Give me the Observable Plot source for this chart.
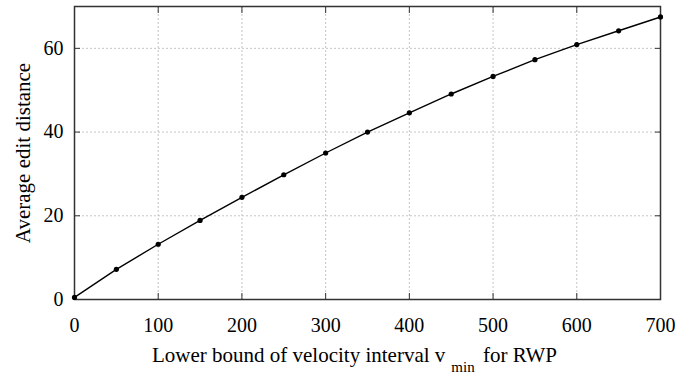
<!DOCTYPE html>
<html><head><meta charset="utf-8">
<script src="https://cdn.jsdelivr.net/npm/d3@7"></script>
<script src="https://cdn.jsdelivr.net/npm/@observablehq/plot@0.6"></script>
<style>
body{margin:0;background:#fff}
svg{display:block}
svg text{font-family:"Liberation Serif","Times New Roman",serif !important}
</style>
</head><body><div id="chart"></div>
<script>
const vmin = [0, 50, 100, 150, 200, 250, 300, 350, 400, 450, 500, 550, 600, 650, 700];
const editDistance = [0.5, 7.2, 13.2, 18.9, 24.4, 29.8, 35.0, 40.0, 44.6, 49.1, 53.3, 57.3, 60.9, 64.2, 67.5];
const xTicks = [0, 100, 200, 300, 400, 500, 600, 700];
const yTicks = [0, 20, 40, 60];
const xTitleMain = "Lower bound of velocity interval v";
const xTitleSub = "min";
const xTitleEnd = " for RWP";
const yTitle = "Average edit distance";

const data = vmin.map((v, i) => ({v, d: editDistance[i]}));
const font = "Liberation Serif";

const chart = Plot.plot({
  width: 700, height: 377,
  marginLeft: 74, marginRight: 40, marginTop: 6, marginBottom: 78,
  style: {fontFamily: font, fontSize: "20px", color: "#000", background: "#fff"},
  x: {domain: [0, 700]},
  y: {domain: [0, 70]},
  marks: [
    Plot.gridX(xTicks, {stroke: "#b5b5b5", strokeOpacity: 1, strokeWidth: 0.8, strokeDasharray: "2,2"}),
    Plot.gridY(yTicks, {stroke: "#b5b5b5", strokeOpacity: 1, strokeWidth: 0.8, strokeDasharray: "2,2"}),
    Plot.axisX(xTicks, {anchor: "bottom", tickSize: -6, tickPadding: 24, label: null, stroke: "#333"}),
    Plot.axisX(xTicks, {anchor: "top", tickSize: -6, fill: "none", label: null, stroke: "#333"}),
    Plot.axisY(yTicks, {anchor: "left", tickSize: -6, tickPadding: 17, label: null, stroke: "#333"}),
    Plot.axisY(yTicks, {anchor: "right", tickSize: -6, fill: "none", label: null, stroke: "#333"}),
    Plot.frame({stroke: "#333", strokeWidth: 1.5}),
    Plot.line(data, {x: "v", y: "d", stroke: "#000", strokeWidth: 1.4}),
    Plot.dot(data, {x: "v", y: "d", r: 2.6, fill: "#000", stroke: "none"})
  ]
});
document.getElementById("chart").appendChild(chart);

const svg = d3.select(chart);
const xt = svg.append("text")
  .attr("x", 152).attr("y", 362)
  .attr("text-anchor", "start")
  .attr("font-size", 21).attr("fill", "#000");
xt.append("tspan").text(xTitleMain);
xt.append("tspan").attr("dx", 6).attr("dy", 10).attr("font-size", 15).text(xTitleSub);
xt.append("tspan").attr("dx", 3).attr("dy", -10).text(xTitleEnd);

svg.append("text")
  .attr("transform", "translate(30,153) rotate(-90)")
  .attr("text-anchor", "middle")
  .attr("font-size", 21).attr("fill", "#000")
  .text(yTitle);
</script>
</body></html>
